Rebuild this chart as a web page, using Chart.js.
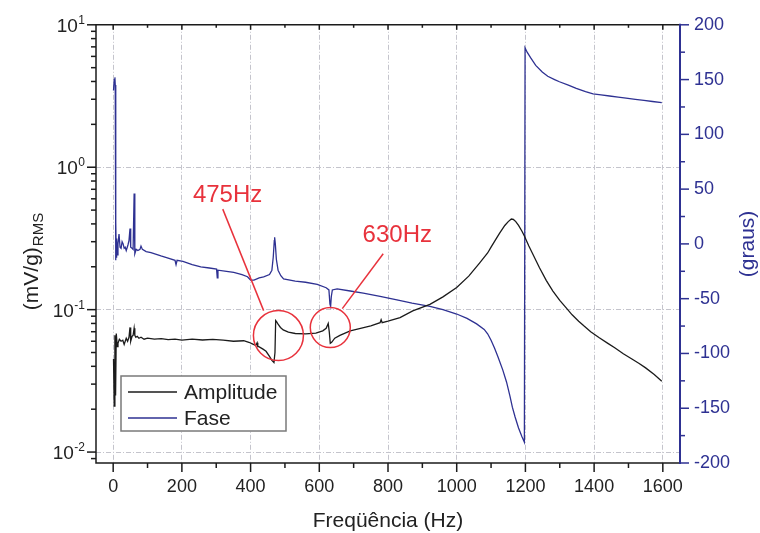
<!DOCTYPE html>
<html>
<head>
<meta charset="utf-8">
<script src="https://cdn.jsdelivr.net/npm/chart.js@4.4.1/dist/chart.umd.min.js"></script>
<style>
  html, body { margin: 0; padding: 0; background: #fff; }
  canvas { display: block; }
</style>
</head>
<body>
<canvas id="chart" width="760" height="533"></canvas>
<script>
// amplitude (mV/g RMS)
const ampFreq = [1, 3, 5, 7, 9, 12, 14, 18, 23, 28, 32, 38, 42, 46, 49, 51, 55, 58, 61, 63, 66, 70, 75, 81, 90, 100,
  120, 140, 160, 180, 200, 230, 260, 290, 320, 350, 380, 395, 405, 415, 419, 421, 424, 435, 445, 455, 462, 468, 471,
  473, 476, 480, 487, 495, 510, 530, 560, 590, 610, 620, 626, 629, 632, 636, 645, 660, 690, 720, 750, 777, 780, 783,
  800, 835, 872, 922, 960, 1000, 1035, 1067, 1090, 1100, 1116, 1125, 1140, 1150, 1159, 1165, 1172, 1180, 1190, 1197,
  1210, 1220, 1241, 1261, 1280, 1300, 1320, 1336, 1355, 1370, 1390, 1414, 1440, 1460, 1485, 1510, 1530, 1550, 1575,
  1597];
const ampValues = [0.045, 0.021, 0.066, 0.025, 0.068, 0.055, 0.058, 0.062, 0.060, 0.061, 0.057, 0.063, 0.060, 0.064,
  0.075, 0.060, 0.065, 0.066, 0.074, 0.066, 0.064, 0.065, 0.063, 0.064, 0.062, 0.063,
  0.062, 0.0625, 0.0615, 0.062, 0.061, 0.062, 0.0612, 0.0618, 0.061, 0.060, 0.0605, 0.059, 0.0575, 0.056, 0.0585,
  0.055, 0.055, 0.053, 0.051, 0.047, 0.044, 0.0425, 0.050,
  0.0838, 0.082, 0.079, 0.075, 0.072, 0.0695, 0.068, 0.0675, 0.0685, 0.071, 0.074, 0.080, 0.070, 0.058, 0.059,
  0.063, 0.066, 0.071, 0.074, 0.077, 0.081, 0.085, 0.081,
  0.083, 0.088, 0.098, 0.109, 0.123, 0.143, 0.172, 0.213, 0.250, 0.275, 0.318, 0.345, 0.39, 0.415, 0.433, 0.43,
  0.415, 0.39, 0.355, 0.329,
  0.28, 0.250, 0.197, 0.160, 0.135, 0.116, 0.102, 0.092, 0.083, 0.077, 0.070, 0.0637, 0.058, 0.054, 0.049, 0.045,
  0.042, 0.039, 0.035, 0.0314];

// phase (degrees)
const phaseFreq = [1, 3, 5, 6, 7, 8, 9, 10, 12, 14, 17, 20, 23, 26, 29, 32, 35, 38, 43, 46, 49, 51, 55, 58, 61, 63,
  67, 72, 78, 81, 85, 96, 110, 139, 160, 180, 183, 186, 203, 230, 255, 280, 301, 303, 305, 330, 351, 375, 391, 400,
  410, 425, 438, 455, 462, 466, 469, 470, 472, 475, 480, 488, 496, 530, 560, 594, 620, 628, 631, 633, 635, 638, 652,
  690, 728, 777, 826, 870, 922, 960, 1000, 1030, 1058, 1080, 1090, 1100, 1110, 1120, 1134, 1145, 1155, 1162, 1170,
  1180, 1190, 1197, 1199, 1205, 1215, 1230, 1249, 1265, 1285, 1299, 1325, 1348, 1375, 1397, 1420, 1445, 1470, 1493,
  1520, 1545, 1570, 1597];
const phaseValues = [140, 150, 152, 145, -15, 20, -12, 5, -10, 0, 9, -3, -4, 2, 0, -4, -3, -6, -1, 3, 14, -3, -4, -5,
  46, -9, -5, -6, -5, -2, -5, -7, -8, -11, -13, -15, -19, -15, -16, -19, -21, -22, -23, -31, -24, -25, -26, -28, -30,
  -33, -33, -31, -30, -28, -24, -12, 3, 6, 0, -14, -24, -29, -32, -34, -35, -37, -40, -42, -55, -57, -48, -42, -41,
  -43, -45, -48, -51, -54, -57, -60, -64, -68, -73, -78, -82, -88, -95, -103, -115, -126, -139, -149, -158,
  -168, -176, -181, 179, 175, 170, 163, 157, 153, 150, 148, 145, 142, 139, 137, 136, 135, 134, 133,
  132, 131, 130, 129];

// axis ticks
const xTicks = [0, 200, 400, 600, 800, 1000, 1200, 1400, 1600];
const ampTicks = [0.01, 0.1, 1, 10];
const phaseTicks = [-200, -150, -100, -50, 0, 50, 100, 150, 200];

// callouts: label, text anchor, line start, line end, circle centre (Hz, amplitude), circle radius px
const callouts = [
  { text: '475Hz', at: [333, 0.63], from: [319, 0.508], to: [438, 0.0984], circle: [481, 0.0658], r: 25 },
  { text: '630Hz', at: [827, 0.33], from: [786, 0.247], to: [667, 0.1016], circle: [632, 0.0748], r: 20 }
];

const FONT = '"Liberation Sans", Arial, sans-serif';
const BLUE = '#2e3192';
const BLACK = '#1b1b1b';
const RED = '#e8323c';

function pts(xs, ys) {
  return xs.map((x, i) => ({ x: x, y: ys[i] }));
}

function seg(ctx, x1, y1, x2, y2) {
  ctx.beginPath();
  ctx.moveTo(x1, y1);
  ctx.lineTo(x2, y2);
  ctx.stroke();
}

const frame = {
  id: 'frame',
  afterDraw(chart) {
    const { ctx, chartArea: a, scales } = chart;
    const x = scales.x, y = scales.y, y1 = scales.y1;
    ctx.save();

    // box
    ctx.strokeStyle = BLACK;
    ctx.lineWidth = 1.5;
    ctx.beginPath();
    ctx.moveTo(a.right, a.top);
    ctx.lineTo(a.left, a.top);
    ctx.lineTo(a.left, a.bottom);
    ctx.lineTo(a.right, a.bottom);
    ctx.stroke();

    // x ticks, bottom out, top in
    for (let f = 0; f <= 1600; f += 100) {
      const px = x.getPixelForValue(f);
      const major = f % 200 === 0;
      seg(ctx, px, a.bottom, px, a.bottom + (major ? 9 : 5));
      seg(ctx, px, a.top, px, a.top + (major ? 5 : 3));
    }

    // log ticks on the left
    for (let e = -3; e <= 0; e++) {
      for (let k = 1; k <= 9; k++) {
        const v = k * Math.pow(10, e);
        if (v < y.min || v > y.max) continue;
        const py = y.getPixelForValue(v);
        seg(ctx, a.left, py, a.left - (k === 1 ? 9 : 5), py);
      }
    }
    const pTop = y.getPixelForValue(10);
    seg(ctx, a.left, pTop, a.left - 9, pTop);

    // left tick labels 10^n
    ampTicks.forEach(t => {
      const py = y.getPixelForValue(t);
      const exp = String(Math.round(Math.log10(t)));
      ctx.fillStyle = '#222';
      ctx.textBaseline = 'alphabetic';
      ctx.font = '12px ' + FONT;
      const ew = ctx.measureText(exp).width;
      ctx.textAlign = 'left';
      ctx.fillText(exp, 85 - ew, py - 1);
      ctx.font = '19px ' + FONT;
      ctx.textAlign = 'right';
      ctx.fillText('10', 85 - ew - 0.5, py + 7);
    });

    // right (phase) axis in blue
    ctx.strokeStyle = BLUE;
    ctx.lineWidth = 2;
    seg(ctx, a.right, a.top - 1, a.right, a.bottom + 1);
    ctx.lineWidth = 1.5;
    for (let d = -200; d <= 200; d += 25) {
      const py = y1.getPixelForValue(d);
      seg(ctx, a.right, py, a.right + (d % 50 === 0 ? 9 : 5), py);
    }

    // axis titles
    ctx.fillStyle = '#222';
    ctx.font = '21px ' + FONT;
    ctx.textAlign = 'center';
    ctx.textBaseline = 'middle';
    ctx.fillText('Freqüência (Hz)', (a.left + a.right) / 2, 521);

    ctx.save();
    ctx.font = '21px ' + FONT;
    const w1 = ctx.measureText('(mV/g)').width;
    ctx.font = '15px ' + FONT;
    const w2 = ctx.measureText('RMS').width;
    ctx.translate(38, 262 + (w1 + w2) / 2);
    ctx.rotate(-Math.PI / 2);
    ctx.textAlign = 'left';
    ctx.textBaseline = 'alphabetic';
    ctx.font = '21px ' + FONT;
    ctx.fillText('(mV/g)', 0, 0);
    ctx.font = '15px ' + FONT;
    ctx.fillText('RMS', w1 + 1, 5);
    ctx.restore();

    ctx.save();
    ctx.fillStyle = BLUE;
    ctx.font = '21px ' + FONT;
    ctx.translate(748, (a.top + a.bottom) / 2);
    ctx.rotate(-Math.PI / 2);
    ctx.textAlign = 'center';
    ctx.textBaseline = 'middle';
    ctx.fillText('(graus)', 0, 0);
    ctx.restore();

    // legend box
    const ds = chart.data.datasets;
    ctx.fillStyle = '#fff';
    ctx.fillRect(121, 376, 165, 55);
    ctx.strokeStyle = '#7a7a7a';
    ctx.lineWidth = 1.5;
    ctx.strokeRect(121, 376, 165, 55);
    ds.forEach((d, i) => {
      const ly = 392 + i * 26;
      ctx.strokeStyle = d.borderColor;
      ctx.lineWidth = 1.3;
      seg(ctx, 128, ly, 177, ly);
      ctx.fillStyle = '#222';
      ctx.font = '21px ' + FONT;
      ctx.textAlign = 'left';
      ctx.textBaseline = 'middle';
      ctx.fillText(d.label, 184, ly + 1);
    });

    // callouts
    ctx.strokeStyle = RED;
    ctx.fillStyle = RED;
    ctx.lineWidth = 1.5;
    callouts.forEach(c => {
      const px = v => x.getPixelForValue(v[0]);
      const py = v => y.getPixelForValue(v[1]);
      seg(ctx, px(c.from), py(c.from), px(c.to), py(c.to));
      ctx.beginPath();
      ctx.arc(px(c.circle), py(c.circle), c.r, 0, Math.PI * 2);
      ctx.stroke();
      ctx.font = '24px ' + FONT;
      ctx.textAlign = 'center';
      ctx.textBaseline = 'middle';
      ctx.fillText(c.text, px(c.at), py(c.at));
    });

    ctx.restore();
  }
};

const gridStyle = { color: '#c4c4cc', lineWidth: 1, drawTicks: false };
const borderStyle = { display: false, dash: [5, 2, 1, 2] };

new Chart(document.getElementById('chart'), {
  type: 'line',
  data: {
    datasets: [
      {
        label: 'Amplitude',
        data: pts(ampFreq, ampValues),
        yAxisID: 'y',
        borderColor: BLACK,
        borderWidth: 1.3,
        pointRadius: 0,
        tension: 0
      },
      {
        label: 'Fase',
        data: pts(phaseFreq, phaseValues),
        yAxisID: 'y1',
        borderColor: BLUE,
        borderWidth: 1.3,
        pointRadius: 0,
        tension: 0
      }
    ]
  },
  options: {
    responsive: false,
    animation: false,
    layout: { padding: { top: 23, left: 0, right: 0, bottom: 0 } },
    plugins: { legend: { display: false }, tooltip: { enabled: false } },
    scales: {
      x: {
        type: 'linear',
        min: -50,
        max: 1650,
        afterBuildTicks: s => { s.ticks = xTicks.map(v => ({ value: v })); },
        afterFit: s => { s.height = 70; },
        grid: gridStyle,
        border: borderStyle,
        ticks: {
          padding: 13, color: '#222', font: { family: FONT, size: 18 }, maxRotation: 0, autoSkip: false,
          callback: v => String(v)
        }
      },
      y: {
        type: 'logarithmic',
        position: 'left',
        min: 0.00838,
        max: 10,
        afterBuildTicks: s => { s.ticks = ampTicks.map(v => ({ value: v })); },
        afterFit: s => { s.width = 96; },
        grid: gridStyle,
        border: borderStyle,
        ticks: { display: false }
      },
      y1: {
        type: 'linear',
        position: 'right',
        min: -200,
        max: 200,
        afterBuildTicks: s => { s.ticks = phaseTicks.map(v => ({ value: v })); },
        afterFit: s => { s.width = 80; },
        grid: { display: false, drawTicks: false },
        border: { display: false },
        ticks: { padding: 14, color: BLUE, font: { family: FONT, size: 18 }, callback: v => String(v) }
      }
    }
  },
  plugins: [frame]
});
</script>
</body>
</html>
